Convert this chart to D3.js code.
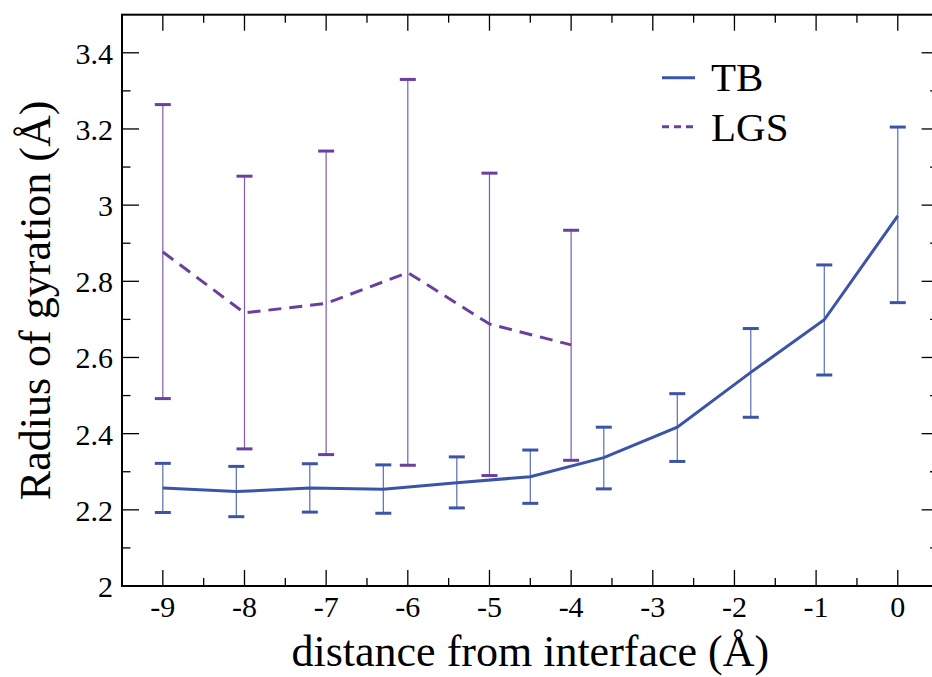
<!DOCTYPE html>
<html>
<head>
<meta charset="utf-8">
<script src="https://cdn.jsdelivr.net/npm/d3@7"></script>
<style>
  body { margin: 0; background: #fff; }
</style>
</head>
<body>
<script>
// distance from interface (Å)
var tbX = [-9, -8.1, -7.2, -6.3, -5.4, -4.5, -3.6, -2.7, -1.8, -0.9, 0];
var tbY = [2.257, 2.248, 2.257, 2.254, 2.271, 2.287, 2.337, 2.417, 2.561, 2.699, 2.972];
var tbHi = [2.322, 2.314, 2.321, 2.318, 2.339, 2.357, 2.417, 2.505, 2.676, 2.843, 3.205];
var tbLo = [2.193, 2.182, 2.194, 2.191, 2.205, 2.217, 2.255, 2.327, 2.443, 2.554, 2.744];

var lgsX = [-9, -8, -7, -6, -5, -4];
var lgsY = [2.877, 2.717, 2.742, 2.823, 2.688, 2.633];
var lgsHi = [3.264, 3.076, 3.142, 3.330, 3.084, 2.934];
var lgsLo = [2.492, 2.360, 2.345, 2.317, 2.290, 2.330];

var xTicks = [-9, -8, -7, -6, -5, -4, -3, -2, -1, 0];
var yTicks = [2, 2.2, 2.4, 2.6, 2.8, 3, 3.2, 3.4];

var width = 932, height = 677;
var margin = {left: 122, top: 14.7, right: 0, bottom: 91};
var plotW = 816.6, plotH = height - margin.top - margin.bottom;
var serif = "'Liberation Serif', 'DejaVu Serif', 'Times New Roman', serif";

var svg = d3.select("body").append("svg")
    .attr("width", width)
    .attr("height", height)
    .attr("font-family", serif);

var g = svg.append("g")
    .attr("transform", "translate(" + margin.left + "," + margin.top + ")");

var x = d3.scaleLinear().domain([-9.5, 0.5]).range([0, plotW]);
var y = d3.scaleLinear().domain([2, 3.5]).range([plotH, 0]);

var blue = "#3b54a8", purple = "#6b3fa0";

// frame
g.append("rect")
    .attr("x", 0).attr("y", 0)
    .attr("width", plotW).attr("height", plotH)
    .attr("fill", "none").attr("stroke", "#000").attr("stroke-width", 2);

// ticks pointing inward
var xMinor = d3.range(-9.5, 0.51, 0.5).filter(function(d) { return xTicks.indexOf(d) < 0; });
var yMinor = d3.range(2.1, 3.5, 0.2);

function tickLines(vals, len, horizontal) {
  vals.forEach(function(v) {
    if (horizontal) {
      g.append("line").attr("x1", x(v)).attr("x2", x(v)).attr("y1", plotH).attr("y2", plotH - len)
        .attr("stroke", "#000").attr("stroke-width", 1.3);
      g.append("line").attr("x1", x(v)).attr("x2", x(v)).attr("y1", 0).attr("y2", len)
        .attr("stroke", "#000").attr("stroke-width", 1.3);
    } else {
      g.append("line").attr("x1", 0).attr("x2", len).attr("y1", y(v)).attr("y2", y(v))
        .attr("stroke", "#000").attr("stroke-width", 1.3);
      g.append("line").attr("x1", plotW).attr("x2", plotW - len).attr("y1", y(v)).attr("y2", y(v))
        .attr("stroke", "#000").attr("stroke-width", 1.3);
    }
  });
}
tickLines(xTicks, 16, true);
tickLines(xMinor, 8, true);
tickLines(yTicks, 17, false);
tickLines(yMinor, 8.5, false);

// tick labels
g.selectAll(".xlab")
  .data(xTicks)
  .enter()
    .append("text")
      .attr("x", function(d) { return x(d); })
      .attr("y", plotH + 31)
      .attr("text-anchor", "middle")
      .attr("font-size", 30)
      .text(function(d) { return d; });

g.selectAll(".ylab")
  .data(yTicks)
  .enter()
    .append("text")
      .attr("x", -9)
      .attr("y", function(d) { return y(d) + 11; })
      .attr("text-anchor", "end")
      .attr("font-size", 30)
      .text(function(d) { return d; });

// axis titles
svg.append("text")
    .attr("x", margin.left + plotW / 2)
    .attr("y", 666)
    .attr("text-anchor", "middle")
    .attr("font-size", 44)
    .text("distance from interface (Å)");

svg.append("text")
    .attr("transform", "translate(50," + (margin.top + plotH / 2) + ") rotate(-90)")
    .attr("text-anchor", "middle")
    .attr("font-size", 44)
    .text("Radius of gyration (Å)");

// error bars
function errorBars(xs, lo, hi, colour) {
  var bars = g.append("g");
  xs.forEach(function(v, i) {
    bars.append("line")
      .attr("x1", x(v)).attr("x2", x(v))
      .attr("y1", y(lo[i])).attr("y2", y(hi[i]))
      .attr("stroke", colour).attr("stroke-width", 1.2).attr("opacity", 0.85);
    [lo[i], hi[i]].forEach(function(e) {
      bars.append("line")
        .attr("x1", x(v) - 8).attr("x2", x(v) + 8)
        .attr("y1", y(e)).attr("y2", y(e))
        .attr("stroke", colour).attr("stroke-width", 3);
    });
  });
}
errorBars(lgsX, lgsLo, lgsHi, purple);
errorBars(tbX, tbLo, tbHi, blue);

var line = d3.line()
    .x(function(d) { return x(d[0]); })
    .y(function(d) { return y(d[1]); });

g.append("path")
    .datum(d3.zip(lgsX, lgsY))
    .attr("d", line)
    .attr("fill", "none")
    .attr("stroke", purple)
    .attr("stroke-width", 3)
    .attr("stroke-dasharray", "13,8");

g.append("path")
    .datum(d3.zip(tbX, tbY))
    .attr("d", line)
    .attr("fill", "none")
    .attr("stroke", blue)
    .attr("stroke-width", 3);

// legend
var legend = svg.append("g");
legend.append("line")
    .attr("x1", 662).attr("x2", 695).attr("y1", 77.7).attr("y2", 77.7)
    .attr("stroke", blue).attr("stroke-width", 3);
legend.append("line")
    .attr("x1", 662).attr("x2", 695).attr("y1", 126.7).attr("y2", 126.7)
    .attr("stroke", purple).attr("stroke-width", 3)
    .attr("stroke-dasharray", "7,5");
legend.append("text")
    .attr("x", 711).attr("y", 91)
    .attr("font-size", 41)
    .text("TB");
legend.append("text")
    .attr("x", 711).attr("y", 141)
    .attr("font-size", 41)
    .text("LGS");
</script>
</body>
</html>
